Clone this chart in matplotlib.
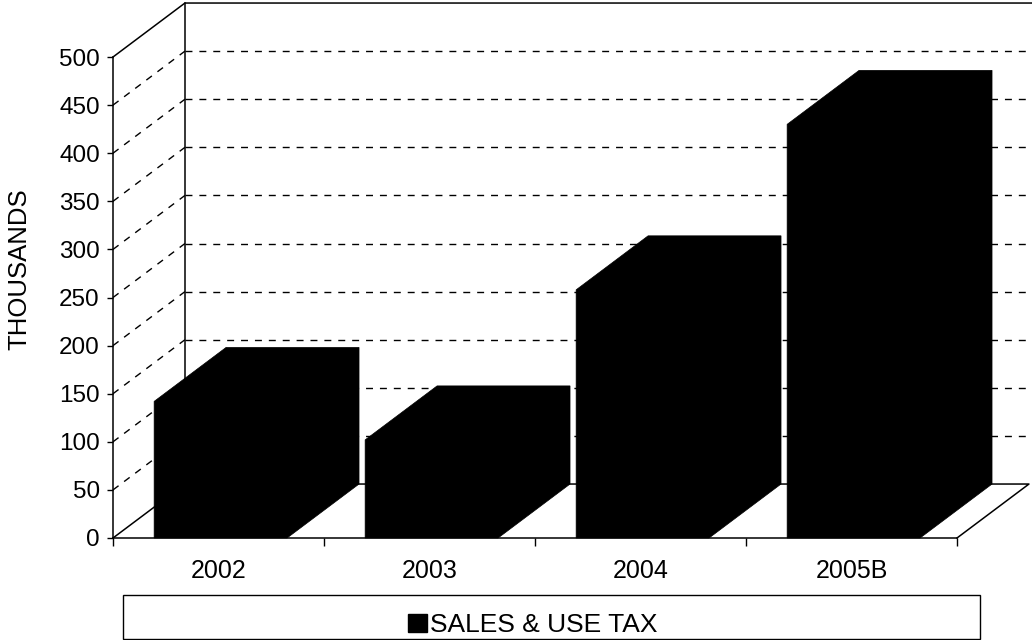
import matplotlib
matplotlib.use("Agg")
import matplotlib.pyplot as plt
from matplotlib import font_manager
from matplotlib.patches import Patch, Polygon, Rectangle

plt.rcParams['font.family'] = ['Liberation Sans', 'DejaVu Sans']

years = ['2002', '2003', '2004', '2005B']
sales_use_tax = [142, 102, 258, 430]  # thousands
y_ticks = list(range(0, 501, 50))
series_name = 'SALES & USE TAX'

# depth of the pseudo-3D box, in data units (categories, thousands)
DEPTH_X = 0.341
DEPTH_Y = 56.1
BAR_LEFT = 0.195
BAR_WIDTH = 0.63
Y_MAX = 500

fig = plt.figure(figsize=(10.32, 6.4), dpi=100)
ax = fig.add_axes([113 / 1032, 102 / 640, 844 / 1032, 481 / 640])
n = len(years)
ax.set_xlim(0, n)
ax.set_ylim(0, Y_MAX)

dash = dict(color='black', lw=1, linestyle=(0, (5, 5)), clip_on=False, zorder=1)
solid = dict(color='black', lw=1.1, clip_on=False, zorder=1)

# gridlines on the back wall and the left side wall
for v in y_ticks[1:-1]:
    ax.plot([DEPTH_X, n + DEPTH_X], [v + DEPTH_Y] * 2, **dash)
    ax.plot([0, DEPTH_X], [v, v + DEPTH_Y], **dash)

# wall and floor edges
ax.plot([0, DEPTH_X, n + DEPTH_X + 0.1], [Y_MAX, Y_MAX + DEPTH_Y, Y_MAX + DEPTH_Y], **solid)
ax.plot([DEPTH_X, DEPTH_X], [DEPTH_Y, Y_MAX + DEPTH_Y], **solid)
ax.plot([0, DEPTH_X, n + DEPTH_X, n], [0, DEPTH_Y, DEPTH_Y, 0], **solid)

# columns: front, top and side faces as one black outline
for i, v in enumerate(sales_use_tax):
    x0 = i + BAR_LEFT
    x1 = x0 + BAR_WIDTH
    outline = [(x0, 0), (x0, v), (x0 + DEPTH_X, v + DEPTH_Y),
               (x1 + DEPTH_X, v + DEPTH_Y), (x1 + DEPTH_X, DEPTH_Y), (x1, 0)]
    ax.add_patch(Polygon(outline, closed=True, facecolor='black', edgecolor='black',
                         lw=0.5, clip_on=False, zorder=3))

for side in ['top', 'right']:
    ax.spines[side].set_visible(False)
for side in ['left', 'bottom']:
    ax.spines[side].set_linewidth(1.1)
    ax.spines[side].set_zorder(4)

ax.set_yticks(y_ticks)
ax.tick_params(axis='y', direction='out', length=4.5, width=1, labelsize=17.5, pad=5)
ax.set_xticks(range(n + 1))
ax.set_xticklabels([])
ax.tick_params(axis='x', which='major', direction='out', length=6, width=1)
ax.set_xticks([i + 0.5 for i in range(n)], minor=True)
ax.set_xticklabels(years, minor=True)
ax.tick_params(axis='x', which='minor', length=0, labelsize=18, pad=15)

# axis title is set in a narrow face when one is available
installed = {f.name for f in font_manager.fontManager.ttflist}
if 'Liberation Sans Narrow' in installed:
    title_font = dict(family='Liberation Sans Narrow', fontsize=21.5)
else:
    title_font = dict(family='Liberation Sans', fontsize=18.5)
fig.text(19 / 1032, 1 - 269 / 640, 'THOUSANDS', rotation=90, ha='center', va='center',
         **title_font)

# legend strip along the bottom
fig.patches.append(Rectangle((123 / 1032, 1.5 / 640), 857 / 1032, 43.5 / 640,
                             transform=fig.transFigure, fill=False, edgecolor='black', lw=1))
fig.legend(handles=[Patch(facecolor='black', edgecolor='black')], labels=[series_name],
           loc='center', bbox_to_anchor=(533 / 1032, 1 - 625 / 640), frameon=False,
           fontsize=19, handlelength=0.7, handleheight=0.7, handletextpad=0.15,
           borderpad=0, borderaxespad=0)

fig.savefig('out.png', dpi=100, facecolor='white')
